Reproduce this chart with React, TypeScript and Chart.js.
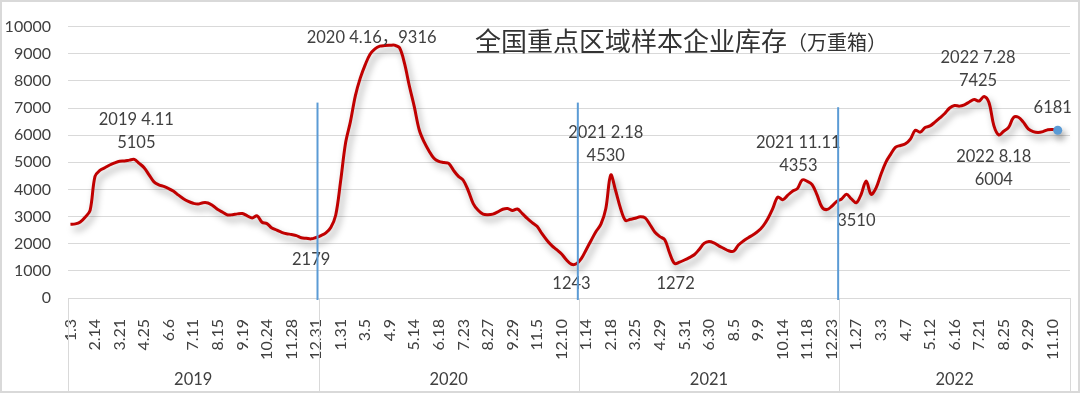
import React, { useEffect, useRef } from 'react';
import { Chart, registerables } from 'chart.js';

Chart.register(...registerables);

// ---------- data ----------
const titleMain = '全国重点区域样本企业库存';
const titleUnit = '（万重箱）';

// shown tick labels (every 5th category)
const tickLabels = [
  '1.3', '2.14', '3.21', '4.25', '6.6', '7.11', '8.15', '9.19', '10.24', '11.28', '12.31',
  '1.31', '3.5', '4.9', '5.14', '6.18', '7.23', '8.27', '9.29', '11.5', '12.10',
  '1.14', '2.18', '3.25', '4.29', '5.31', '6.30', '8.5', '9.9', '10.14', '11.18', '12.23',
  '1.27', '3.3', '4.7', '5.12', '6.16', '7.21', '8.25', '9.29', '11.10',
];
const tickEvery = 5;
const categoryCount = 204;

const years = ['2019', '2020', '2021', '2022'];
const yearStarts = [0, 51, 104, 157];

const values = [
  2720, 2730, 2800, 2980, 3230, 4480, 4700, 4800, 4900, 4980,
  5040, 5050, 5080, 5105, 4960, 4800, 4540, 4280, 4170, 4110,
  4030, 3930, 3790, 3660, 3560, 3490, 3460, 3510, 3500, 3400,
  3260, 3160, 3060, 3070, 3100, 3110, 3030, 2950, 3030, 2790,
  2740, 2580, 2500, 2420, 2370, 2340, 2300, 2220, 2200, 2179,
  2230, 2300, 2400, 2600, 3050, 4300, 5700, 6500, 7450, 8100,
  8590, 8980, 9180, 9280, 9300, 9310, 9316, 9220, 8650, 7810,
  7050, 6200, 5750, 5420, 5150, 5030, 4990, 4960, 4700, 4480,
  4330, 3950, 3480, 3230, 3090, 3070, 3090, 3170, 3270, 3300,
  3225, 3280, 3110, 2932, 2780, 2640, 2370, 2130, 1930, 1780,
  1620, 1400, 1243, 1260, 1450, 1780, 2120, 2450, 2720, 3300,
  4530, 3950, 3300, 2860, 2900, 2940, 2990, 2950, 2700, 2420,
  2260, 2150, 1650, 1272, 1320, 1400, 1490, 1593, 1790, 2010,
  2080, 2030, 1920, 1830, 1740, 1720, 1950, 2100, 2220, 2330,
  2460, 2650, 2930, 3300, 3720, 3620, 3780, 3936, 4030, 4353,
  4300, 4180, 3800, 3350, 3257, 3380, 3560, 3650, 3820, 3650,
  3510, 3830, 4310, 3820, 4050, 4550, 5000, 5300, 5560, 5620,
  5680, 5850, 6180, 6110, 6280, 6340, 6480, 6635, 6800, 7000,
  7090, 7070, 7120, 7220, 7312, 7260, 7425, 7200, 6350, 6004,
  6145, 6285, 6650, 6660, 6480, 6230, 6130, 6098, 6130, 6200,
  6210, 6181,
];

// annotated points
const annoIndex = [13, 49, 66, 110, 102, 123, 149, 160, 186, 189, 201];
const annoText = [
  ['2019 4.11', '5105'],
  ['2179'],
  ['2020 4.16，9316'],
  ['2021 2.18', '4530'],
  ['1243'],
  ['1272'],
  ['2021 11.11', '4353'],
  ['3510'],
  ['2022 7.28', '7425'],
  ['2022 8.18', '6004'],
  ['6181'],
];

// blue year-marker lines: top value of each
const markerTops = [7200, 7200, 7030];

// ---------- layout / style ----------
const annoOffset = [
  [2, -40], [0, 21], [-23, -7], [-5, -42], [0, 19], [1, 20],
  [-4, -37], [0, 18], [-6, -39], [-5, 22], [-5, -23],
];
const LINE_H = 23;
const FONT = 'Lato, "Noto Sans CJK SC", sans-serif';
const TEXT = '#404040';
const GRID = '#d9d9d9';

const categories = Array.from({ length: categoryCount }, (_, i) =>
  i % tickEvery === 0 && tickLabels[i / tickEvery] !== undefined ? tickLabels[i / tickEvery] : ''
);

const shadowPlugin = {
  id: 'lineShadow',
  beforeDatasetDraw(chart: any) {
    const ctx = chart.ctx;
    ctx.save();
    ctx.shadowColor = 'rgba(0,0,0,0.38)';
    ctx.shadowBlur = 7;
    ctx.shadowOffsetX = 3;
    ctx.shadowOffsetY = 5;
  },
  afterDatasetDraw(chart: any) {
    chart.ctx.restore();
  },
};

const decorPlugin = {
  id: 'decor',
  beforeDraw(chart: any) {
    const ctx = chart.ctx;
    ctx.save();
    ctx.fillStyle = '#ffffff';
    ctx.fillRect(0, 0, chart.width, chart.height);
    ctx.restore();
  },
  afterDatasetsDraw(chart: any) {
    const ctx = chart.ctx;
    const xs = chart.scales.x;
    const ys = chart.scales.y;
    ctx.save();
    ctx.fillStyle = TEXT;
    ctx.font = `16.5px ${FONT}`;
    ctx.textAlign = 'center';
    ctx.textBaseline = 'middle';
    annoIndex.forEach((idx, k) => {
      const px = xs.getPixelForValue(idx);
      const py = ys.getPixelForValue(values[idx]);
      const [dx, dy] = annoOffset[k];
      annoText[k].forEach((t, j) => {
        ctx.fillText(t, px + dx, py + dy + j * LINE_H);
      });
    });
    ctx.restore();
  },
  afterDraw(chart: any) {
    const ctx = chart.ctx;
    const xs = chart.scales.x;
    const ys = chart.scales.y;
    const area = chart.chartArea;
    const bottom = 391;
    const boundary = (i: number) =>
      (xs.getPixelForValue(i - 1) + xs.getPixelForValue(i)) / 2;
    const bounds = [area.left, ...yearStarts.slice(1).map(boundary), area.right];

    ctx.save();
    // category group separators
    ctx.strokeStyle = GRID;
    ctx.lineWidth = 1;
    bounds.forEach((b) => {
      const x = Math.round(b) + 0.5;
      ctx.beginPath();
      ctx.moveTo(x, area.bottom);
      ctx.lineTo(x, bottom);
      ctx.stroke();
    });
    // year labels
    ctx.fillStyle = TEXT;
    ctx.font = `16.5px ${FONT}`;
    ctx.textAlign = 'center';
    ctx.textBaseline = 'middle';
    years.forEach((y, k) => {
      ctx.fillText(y, (bounds[k] + bounds[k + 1]) / 2, 380);
    });
    // blue marker lines
    ctx.strokeStyle = '#5B9BD5';
    ctx.lineWidth = 2;
    yearStarts.slice(1).forEach((s, k) => {
      const x = boundary(s) - 1;
      ctx.beginPath();
      ctx.moveTo(x, ys.getPixelForValue(markerTops[k]));
      ctx.lineTo(x, area.bottom + 2);
      ctx.stroke();
    });
    // title
    ctx.fillStyle = '#333333';
    ctx.textAlign = 'left';
    ctx.textBaseline = 'middle';
    ctx.font = '26px "Noto Sans CJK SC"';
    const tx = 475;
    ctx.fillText(titleMain, tx, 41);
    const w = ctx.measureText(titleMain).width;
    ctx.font = '20px "Noto Sans CJK SC"';
    ctx.fillText(titleUnit, tx + w, 42);
    // outer border
    ctx.strokeStyle = GRID;
    ctx.lineWidth = 2;
    ctx.strokeRect(1, 1, chart.width - 2, chart.height - 2);
    ctx.restore();
  },
};

export default function App() {
  const ref = useRef<HTMLCanvasElement>(null);
  useEffect(() => {
    const last = values.length - 1;
    const chart = new Chart(ref.current as HTMLCanvasElement, {
      type: 'line',
      data: {
        labels: categories,
        datasets: [
          {
            data: values,
            borderColor: '#C00000',
            borderWidth: 3,
            tension: 0.35,
            fill: false,
            pointRadius: (c: any) => (c.dataIndex === last ? 4.5 : 0),
            pointBackgroundColor: '#5B9BD5',
            pointBorderWidth: 0,
            pointHoverRadius: 0,
          },
        ],
      },
      options: {
        animation: false,
        responsive: false,
        devicePixelRatio: 1,
        events: [],
        layout: { padding: { left: 0, top: 14, right: 10, bottom: 0 } },
        plugins: {
          legend: { display: false },
          tooltip: { enabled: false },
          title: { display: false },
        },
        scales: {
          x: {
            type: 'category',
            offset: true,
            grid: { display: false, drawTicks: false },
            border: { display: false },
            ticks: {
              autoSkip: false,
              maxRotation: 90,
              minRotation: 90,
              padding: 21,
              color: TEXT,
              font: { family: FONT, size: 16 },
            },
            afterFit: (s: any) => {
              s.height = 95;
              s.paddingLeft = 0;
              s.paddingRight = 0;
            },
          },
          y: {
            min: 0,
            max: 10000,
            grid: { color: GRID, lineWidth: 1, drawTicks: false },
            border: { display: false },
            ticks: {
              stepSize: 1000,
              padding: 17,
              color: TEXT,
              font: { family: FONT, size: 16 },
              callback: (v: any) => String(v),
            },
            afterFit: (s: any) => {
              s.width = 68;
            },
          },
        },
      },
      plugins: [shadowPlugin, decorPlugin],
    } as any);
    return () => chart.destroy();
  }, []);
  return (
    <div style={{ position: 'fixed', left: 0, top: 0, width: 1080, height: 393, background: '#fff' }}>
      <canvas ref={ref} width={1080} height={393} style={{ display: 'block', width: 1080, height: 393 }} />
    </div>
  );
}
